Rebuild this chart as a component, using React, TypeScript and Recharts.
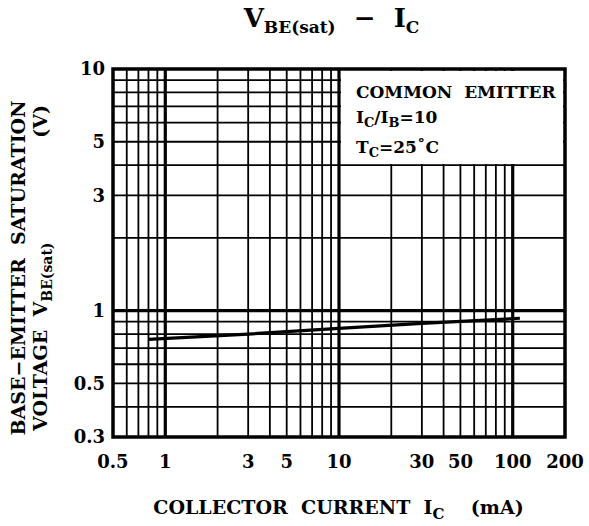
import React from 'react';
import { LineChart, Line, XAxis, YAxis, ReferenceLine, ReferenceArea } from 'recharts';

const collectorCurrent = [0.8, 3, 10, 30, 110];
const baseEmitterVoltage = [0.76, 0.8, 0.845, 0.885, 0.93];

const xTicks = [0.5, 1, 3, 5, 10, 30, 50, 100, 200];
const yTicks = [0.3, 0.5, 1, 3, 5, 10];

const xGrid = [0.6, 0.7, 0.8, 0.9, 1, 2, 3, 4, 5, 6, 7, 8, 9, 10, 20, 30, 40, 50, 60, 70, 80, 90, 100];
const yGrid = [0.4, 0.5, 0.6, 0.7, 0.8, 0.9, 1, 2, 3, 4, 5, 6, 7, 8, 9];
const decades = [1, 10, 100];

const data = collectorCurrent.map((ic, i) => ({ ic, v: baseEmitterVoltage[i] }));

const font = '"DejaVu Serif", "Liberation Serif", serif';
const tickStyle = { fontFamily: font, fontSize: 18, fontWeight: 700, fill: '#000' };

export default function App() {
    return (
        <div style={{ position: 'absolute', left: 0, top: 0, width: 589, height: 526, background: '#fff', fontFamily: font, fontWeight: 700, color: '#000' }}>
            <LineChart width={589} height={526} data={data} margin={{ top: 69, right: 24, left: 0, bottom: 0 }}>
                <XAxis dataKey="ic" type="number" scale="log" domain={[0.5, 200]} ticks={xTicks} allowDataOverflow
                    tickLine={false} axisLine={false} tickSize={0} tickMargin={18} height={89} tick={tickStyle} interval={0} />
                <YAxis type="number" scale="log" domain={[0.3, 10]} ticks={yTicks} allowDataOverflow
                    tickLine={false} axisLine={false} tickSize={0} tickMargin={8} width={113} tick={tickStyle} interval={0} />
                {xGrid.map(x => (
                    <ReferenceLine key={'x' + x} x={x} stroke="#000" strokeWidth={decades.includes(x) ? 3.2 : 1.8} />
                ))}
                {yGrid.map(y => (
                    <ReferenceLine key={'y' + y} y={y} stroke="#000" strokeWidth={y === 1 ? 3.2 : 1.8} />
                ))}
                <ReferenceArea x1={0.5} x2={200} y1={0.3} y2={10} fill="none" stroke="#000" strokeWidth={3.5} />
                <Line dataKey="v" type="linear" stroke="#000" strokeWidth={3.2} dot={false} isAnimationActive={false} />
            </LineChart>

            {/* legend box: white panel over the upper right grid cells */}
            <div style={{ position: 'absolute', left: 341, top: 71, width: 222, height: 93, background: '#fff' }} />
            <div style={{ position: 'absolute', left: 356, top: 80, fontSize: 17, lineHeight: '25px', whiteSpace: 'nowrap' }}>
                <div>COMMON&nbsp;&nbsp;EMITTER</div>
                <div>I<sub style={{ fontSize: 13 }}>C</sub>/I<sub style={{ fontSize: 13 }}>B</sub>=10</div>
                <div>T<sub style={{ fontSize: 13 }}>C</sub>=25˚C</div>
            </div>

            <div style={{ position: 'absolute', left: 0, width: 589, top: 3, textAlign: 'center', paddingLeft: 74, boxSizing: 'border-box', fontSize: 26, whiteSpace: 'nowrap' }}>
                V<sub style={{ fontSize: 17 }}>BE(sat)</sub>&nbsp;&nbsp;−&nbsp;&nbsp;I<sub style={{ fontSize: 17 }}>C</sub>
            </div>

            <div style={{ position: 'absolute', left: 0, width: 589, top: 496, textAlign: 'center', paddingLeft: 88, boxSizing: 'border-box', fontSize: 19, whiteSpace: 'nowrap' }}>
                COLLECTOR&nbsp;&nbsp;CURRENT&nbsp;&nbsp;I<sub style={{ fontSize: 15 }}>C</sub>&nbsp;&nbsp;&nbsp;&nbsp;(mA)
            </div>

            <div style={{ position: 'absolute', left: 31 - 175, top: 268 - 24, width: 350, height: 48, transform: 'rotate(-90deg)', fontSize: 19, lineHeight: '22px', whiteSpace: 'nowrap' }}>
                <div style={{ textAlign: 'center' }}>BASE−EMITTER&nbsp;&nbsp;SATURATION</div>
                <div style={{ display: 'flex', justifyContent: 'space-between', padding: '0 12px' }}>
                    <span>VOLTAGE&nbsp;&nbsp;V<sub style={{ fontSize: 14 }}>BE(sat)</sub></span>
                    <span>(V)</span>
                </div>
            </div>
        </div>
    );
}
